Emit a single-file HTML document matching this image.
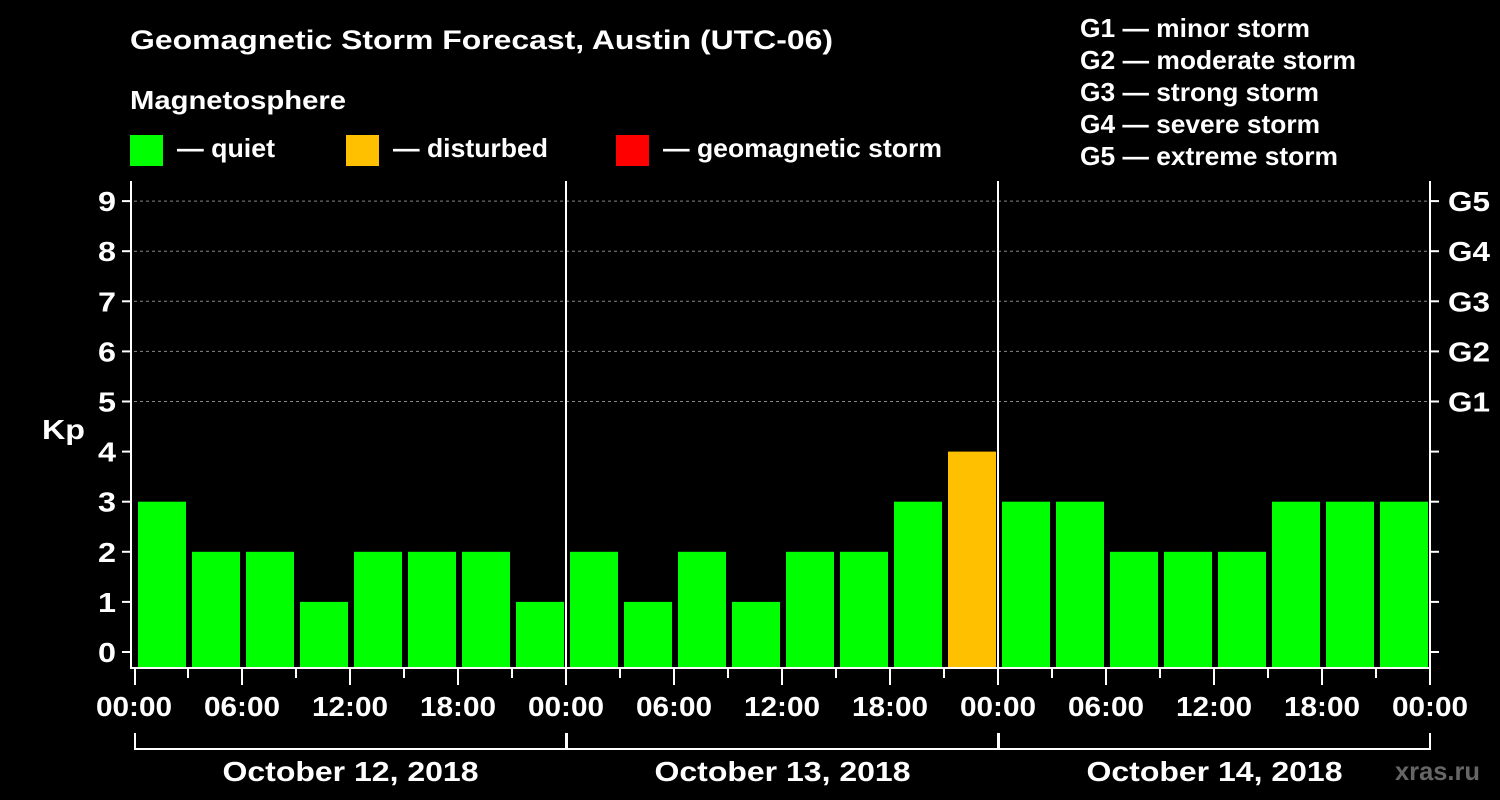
<!DOCTYPE html>
<html><head><meta charset="utf-8"><style>
html,body{margin:0;padding:0;background:#000;}
svg{display:block;font-family:"Liberation Sans",Arial,sans-serif;font-weight:bold;}
</style></head><body>
<svg width="1500" height="800" viewBox="0 0 1500 800">
<rect width="1500" height="800" fill="#000"/>
<text x="130" y="49" fill="#fff" font-size="27" textLength="703" lengthAdjust="spacingAndGlyphs">Geomagnetic Storm Forecast, Austin (UTC-06)</text>
<text x="130" y="109" fill="#fff" font-size="26" textLength="216" lengthAdjust="spacingAndGlyphs">Magnetosphere</text>
<g><rect x="130" y="135" width="33" height="31" fill="#00ff00"/><text x="177" y="157" fill="#fff" font-size="26" textLength="98" lengthAdjust="spacingAndGlyphs">— quiet</text></g>
<g><rect x="346" y="135" width="33" height="31" fill="#ffc000"/><text x="393" y="157" fill="#fff" font-size="26" textLength="155" lengthAdjust="spacingAndGlyphs">— disturbed</text></g>
<g><rect x="616" y="135" width="33" height="31" fill="#ff0000"/><text x="663" y="157" fill="#fff" font-size="26" textLength="279" lengthAdjust="spacingAndGlyphs">— geomagnetic storm</text></g>
<g fill="#fff" font-size="26" lengthAdjust="spacingAndGlyphs">
<text x="1080" y="37" textLength="230" lengthAdjust="spacingAndGlyphs">G1 — minor storm</text>
<text x="1080" y="69" textLength="276" lengthAdjust="spacingAndGlyphs">G2 — moderate storm</text>
<text x="1080" y="101" textLength="239" lengthAdjust="spacingAndGlyphs">G3 — strong storm</text>
<text x="1080" y="133" textLength="240" lengthAdjust="spacingAndGlyphs">G4 — severe storm</text>
<text x="1080" y="165" textLength="258" lengthAdjust="spacingAndGlyphs">G5 — extreme storm</text>
</g>
<text x="42" y="439" fill="#fff" font-size="28" textLength="43" lengthAdjust="spacingAndGlyphs">Kp</text>
<text x="1395" y="780" fill="#666" font-size="26" textLength="85" lengthAdjust="spacingAndGlyphs">xras.ru</text>
<g id="plot"></g>
</svg>
<script>
const values = [3,2,2,1,2,2,2,1, 2,1,2,1,2,2,3,4, 3,3,2,2,2,3,3,3];
const yTicks = [0,1,2,3,4,5,6,7,8,9];
const gLabels = ["G1","G2","G3","G4","G5"];
const xLabels = ["00:00","06:00","12:00","18:00","00:00","06:00","12:00","18:00","00:00","06:00","12:00","18:00","00:00"];
const dayLabels = ["October 12, 2018","October 13, 2018","October 14, 2018"];

const NS="http://www.w3.org/2000/svg";
const g=document.getElementById('plot');
const X0=134, X1=1430, BOT=668, TOP=181;
const xs=i=>X0+(X1-X0)*i/values.length;
const ys=v=>652-v*50.1;
function mk(t,a,p){const e=document.createElementNS(NS,t);for(const k in a)e.setAttribute(k,a[k]);(p||g).appendChild(e);return e;}
function color(v){return v>=5?'#ff0000':(v>=4?'#ffc000':'#00ff00');}

yTicks.forEach(v=>{if(v>=5){const l=mk('line',{x1:X0,x2:X1,y1:ys(v),y2:ys(v),stroke:'#888','stroke-dasharray':'3,3','stroke-width':1});

}});

values.forEach((v,i)=>{const r=mk('rect',{x:xs(i)+4,y:ys(v),width:48,height:BOT-ys(v),fill:color(v)});

});

mk('line',{x1:131,x2:131,y1:TOP,y2:BOT+1,stroke:'#fff','stroke-width':2});
mk('line',{x1:X1,x2:X1,y1:TOP,y2:BOT+1,stroke:'#fff','stroke-width':2});
mk('line',{x1:130,x2:X1+1,y1:BOT,y2:BOT,stroke:'#fff','stroke-width':2});
[1,2].forEach(d=>{const l=mk('line',{x1:X0+432*d,x2:X0+432*d,y1:TOP,y2:BOT,stroke:'#fff','stroke-width':2});

});

yTicks.forEach(v=>{mk('line',{x1:122,x2:131,y1:ys(v),y2:ys(v),stroke:'#fff','stroke-width':2});
mk('line',{x1:X1,x2:X1+9,y1:ys(v),y2:ys(v),stroke:'#fff','stroke-width':2});
const t=mk('text',{x:116,y:ys(v)+10,fill:'#fff','font-size':28,'text-anchor':'end',textLength:18,lengthAdjust:'spacingAndGlyphs'});t.textContent=v;

});

gLabels.forEach((s,i)=>{const t=mk('text',{x:1448,y:ys(5+i)+10,fill:'#fff','font-size':28,textLength:42,lengthAdjust:'spacingAndGlyphs'});t.textContent=s;

});

for(let i=0;i<=values.length;i++){const x=xs(i)+(i===0?1:0);mk('line',{x1:x,x2:x,y1:BOT,y2:i%2===0?685:678,stroke:'#fff','stroke-width':2});}
xLabels.forEach((s,i)=>{const t=mk('text',{x:X0+108*i,y:716,fill:'#fff','font-size':28,'text-anchor':'middle',textLength:76,lengthAdjust:'spacingAndGlyphs'});t.textContent=s;

});

dayLabels.forEach((s,d)=>{const a=X0+432*d+1,b=X0+432*(d+1);
mk('path',{d:`M${a} 733V749H${b}V733`,stroke:'#fff','stroke-width':2,fill:'none'});
const t=mk('text',{x:(a+b)/2,y:781,fill:'#fff','font-size':28,'text-anchor':'middle',textLength:256,lengthAdjust:'spacingAndGlyphs'});t.textContent=s;

});
</script>
</body></html>
